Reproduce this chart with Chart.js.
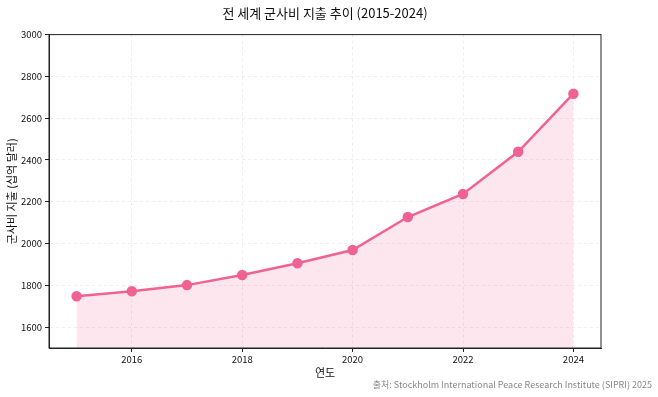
<!DOCTYPE html>
<html>
<head>
<meta charset="utf-8">
<script src="https://cdn.jsdelivr.net/npm/chart.js@4"></script>
<style>
  html, body { margin: 0; padding: 0; background: #fff; }
  #wrap { width: 658px; height: 397px; }
</style>
</head>
<body>
<div id="wrap"><canvas id="spendChart" width="658" height="397"></canvas></div>
<script>
// data
const years = [2015, 2016, 2017, 2018, 2019, 2020, 2021, 2022, 2023, 2024];
const spending = [1748, 1772, 1801, 1849, 1906, 1969, 2127, 2237, 2439, 2717];
const xTicks = [2016, 2018, 2020, 2022, 2024];
const yTicks = [1600, 1800, 2000, 2200, 2400, 2600, 2800, 3000];

const FONT = "'Noto Sans CJK KR', 'Noto Sans', sans-serif";
const PINK = "#f06292";

// black frame around the plot + source note
const framePlugin = {
  id: "frame",
  afterDraw(chart) {
    const { ctx, chartArea: a } = chart;
    ctx.save();
    ctx.strokeStyle = "#222";
    ctx.lineWidth = 1;
    ctx.strokeRect(a.left, a.top, a.right - a.left, a.bottom - a.top);
    ctx.fillStyle = "#888";
    ctx.font = "9px " + FONT;
    ctx.textAlign = "right";
    ctx.textBaseline = "middle";
    ctx.fillText("출처: Stockholm International Peace Research Institute (SIPRI) 2025", 652, 385);
    ctx.restore();
  }
};

new Chart(document.getElementById("spendChart"), {
  type: "line",
  data: {
    datasets: [{
      data: years.map((y, i) => ({ x: y, y: spending[i] })),
      borderColor: PINK,
      borderWidth: 2.5,
      backgroundColor: "rgba(240,98,146,0.16)",
      fill: "start",
      pointRadius: 4,
      pointBackgroundColor: PINK,
      pointBorderColor: PINK,
      tension: 0
    }]
  },
  options: {
    responsive: false,
    animation: false,
    layout: { padding: { left: 0, right: 57, top: 0, bottom: 18 } },
    plugins: {
      legend: { display: false },
      tooltip: { enabled: false },
      title: {
        display: true,
        text: "전 세계 군사비 지출 추이 (2015-2024)",
        fullSize: false,
        color: "#111",
        font: { family: FONT, size: 13, weight: "normal" },
        padding: { top: 5, bottom: 14 }
      }
    },
    scales: {
      x: {
        type: "linear",
        min: 2014.5,
        max: 2024.5,
        afterBuildTicks: s => { s.ticks = xTicks.map(v => ({ value: v })); },
        afterFit: s => { s.height = 31; },
        ticks: {
          color: "#111",
          font: { family: FONT, size: 9.5 },
          padding: 2,
          maxRotation: 0,
          callback: v => String(v)
        },
        grid: { color: "#eeeeee", tickColor: "#222", tickLength: 4, tickBorderDash: [] },
        border: { color: "#222", width: 1, dash: [3, 3] },
        title: {
          display: true,
          text: "연도",
          color: "#111",
          font: { family: FONT, size: 11 },
          padding: { top: 0, bottom: 0 }
        }
      },
      y: {
        min: 1500,
        max: 3000,
        afterBuildTicks: s => { s.ticks = yTicks.map(v => ({ value: v })); },
        afterFit: s => { s.width = 49; },
        ticks: {
          color: "#111",
          font: { family: FONT, size: 9.5 },
          padding: 3,
          callback: v => String(v)
        },
        grid: { color: "#eeeeee", tickColor: "#222", tickLength: 4, tickBorderDash: [] },
        border: { color: "#222", width: 1, dash: [3, 3] },
        title: {
          display: true,
          text: "군사비 지출 (십억 달러)",
          color: "#111",
          font: { family: FONT, size: 11 },
          padding: { top: 5, bottom: 0 }
        }
      }
    }
  },
  plugins: [framePlugin]
});
</script>
</body>
</html>
